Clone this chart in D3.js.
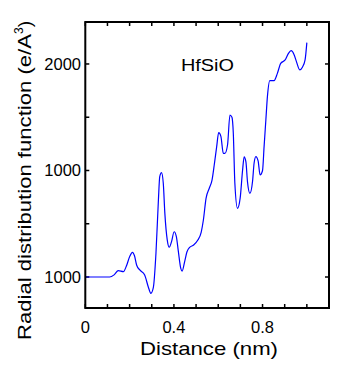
<!DOCTYPE html>
<html><head><meta charset="utf-8">
<script src="https://cdn.jsdelivr.net/npm/d3@7"></script>
<style>body{margin:0;background:#fff}svg{display:block}text{font-family:"Liberation Sans",Arial,sans-serif;fill:#000}</style>
</head><body>
<svg id="c" width="353" height="381"></svg>
<script>
const distance = [0,0.05,0.11,0.13,0.149,0.172,0.185,0.2,0.213,0.222,0.232,0.246,0.268,0.284,0.296,0.307,0.319,0.33,0.336,0.344,0.352,0.359,0.37,0.379,0.389,0.401,0.411,0.42,0.431,0.437,0.449,0.459,0.471,0.489,0.508,0.523,0.533,0.545,0.56,0.572,0.583,0.593,0.602,0.612,0.623,0.63,0.642,0.653,0.662,0.668,0.675,0.687,0.699,0.71,0.717,0.725,0.732,0.743,0.755,0.762,0.77,0.78,0.789,0.8,0.807,0.815,0.822,0.833,0.852,0.867,0.882,0.902,0.917,0.929,0.942,0.953,0.968,0.98,0.992,1.0];
const rdf = [0,0,0,20,59,50,100,190,232,200,110,66,19,-91,-153,-100,225,723,942,980,880,600,347,280,330,425,380,240,81,56,150,237,279,300,347,420,535,739,835,910,1067,1224,1355,1320,1161,1160,1239,1521,1500,1352,882,645,740,1005,1127,1080,895,786,900,1070,1130,1090,958,1000,1224,1474,1693,1844,1844,1912,2006,2038,2100,2125,2090,2022,1944,1970,2038,2200];
const xTickValues = [0,0.1,0.2,0.3,0.4,0.5,0.6,0.7,0.8,0.9,1.0,1.1];
const xLabelValues = [0,0.4,0.8];
const xLabels = ["0","0.4","0.8"];
const yTickValues = [0,500,1000,1500,2000];
const yLabelValues = [0,1000,2000];
const yLabels = ["1000","1000","2000"];
const title = "HfSiO";

const svg = d3.select("#c");
const L=85.3, R=329, T=22, B=308;
const x = d3.scaleLinear().domain([0,1.1]).range([L,R]);
const y = d3.scaleLinear().domain([-291,2394]).range([B,T]);
const tl = 4;

const g = svg.append("g");
xTickValues.forEach(v=>{
  g.append("line").attr("x1",x(v)).attr("x2",x(v)).attr("y1",B).attr("y2",B-tl).attr("stroke","#000").attr("stroke-width",1.5);
  g.append("line").attr("x1",x(v)).attr("x2",x(v)).attr("y1",T).attr("y2",T+tl).attr("stroke","#000").attr("stroke-width",1.5);
});
yTickValues.forEach(v=>{
  g.append("line").attr("x1",L).attr("x2",L+tl).attr("y1",y(v)).attr("y2",y(v)).attr("stroke","#000").attr("stroke-width",1.5);
  g.append("line").attr("x1",R).attr("x2",R-tl).attr("y1",y(v)).attr("y2",y(v)).attr("stroke","#000").attr("stroke-width",1.5);
});
xLabelValues.forEach((v,i)=>{
  g.append("text").attr("x",x(v)).attr("y",333).attr("text-anchor","middle").attr("font-size",16.5).text(xLabels[i]);
});
yLabelValues.forEach((v,i)=>{
  g.append("text").attr("x",81).attr("y",y(v)+6).attr("text-anchor","end").attr("font-size",16.5).text(yLabels[i]);
});
const pts = distance.map((d,i)=>[d,rdf[i]]);
g.append("path").attr("d",d3.line().x(d=>x(d[0])).y(d=>y(d[1])).curve(d3.curveMonotoneX)(pts))
  .attr("fill","none").attr("stroke","#0000ff").attr("stroke-width",1.2);
g.append("rect").attr("x",L).attr("y",T).attr("width",R-L).attr("height",B-T).attr("fill","none").attr("stroke","#000").attr("stroke-width",2);
g.append("text").attr("x",207.5).attr("y",71).attr("text-anchor","middle").attr("font-size",17).attr("textLength",53).attr("lengthAdjust","spacingAndGlyphs").text(title);
g.append("text").attr("x",209).attr("y",355).attr("text-anchor","middle").attr("font-size",18.5).attr("textLength",138).attr("lengthAdjust","spacingAndGlyphs").text("Distance (nm)");
const yt = g.append("text").attr("transform","translate(31,340) rotate(-90)").attr("text-anchor","start").attr("font-size",19);
yt.append("tspan").attr("textLength",306).attr("lengthAdjust","spacingAndGlyphs").text("Radial distribution function  (e/A");
yt.append("tspan").attr("font-size",12).attr("dy",-8).text("3");
yt.append("tspan").attr("dy",8).text(")");
</script>
</body></html>
